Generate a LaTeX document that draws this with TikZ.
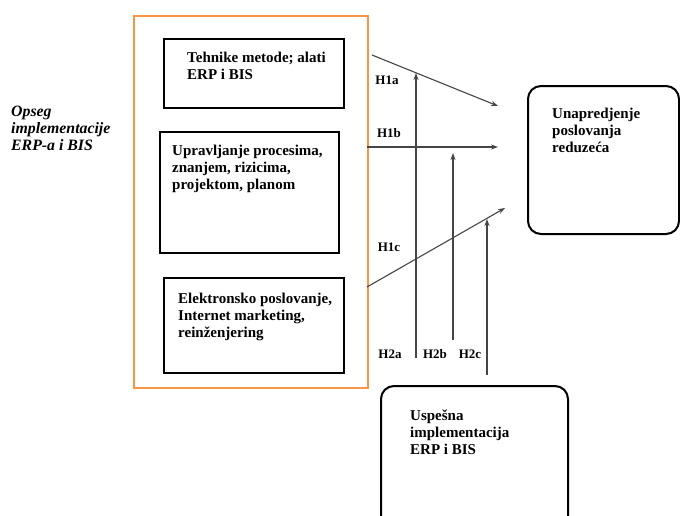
\documentclass[tikz,border=0pt]{standalone}
\usepackage{fontspec}
\setmainfont{Liberation Serif}
\usetikzlibrary{arrows.meta}
\definecolor{orangeline}{HTML}{F79646}
\definecolor{linkgray}{HTML}{454545}
\begin{document}
\begin{tikzpicture}[x=1pt,y=-1pt,
  frame/.style={draw=black,line width=2pt,inner sep=0pt,anchor=north west},
  softbox/.style={draw=black,line width=2pt,rounded corners=13pt,inner sep=0pt,anchor=north west},
  outer/.style={draw=orangeline,line width=2.2pt,inner sep=0pt,anchor=north west},
  txt/.style={anchor=north west,inner sep=0pt,align=left,font=\bfseries\fontsize{15}{16.8}\selectfont},
  sidetxt/.style={txt,font=\bfseries\itshape\fontsize{15.8}{16.8}\selectfont},
  link/.style={draw=linkgray,line width=1.1pt,-{Stealth[length=7pt,width=5pt]}},
  hlabel/.style={font=\bfseries\fontsize{13}{14}\selectfont,inner sep=0pt}]
\useasboundingbox (0,0) rectangle (680,515);

% frame around the three areas of implementation
\node[outer, minimum width=234, minimum height=372] (scope) at (133,15) {};

% the three areas
\node[frame, minimum width=180, minimum height=69] (b1) at (163,38) {};
\node[frame, minimum width=179, minimum height=121] (b2) at (159,131) {};
\node[frame, minimum width=180, minimum height=95] (b3) at (163,277) {};

\node[txt] (t1) at (187,52) {Tehnike metode; alati\\ERP i BIS};
\node[txt] (t2) at (172,145) {Upravljanje procesima,\\znanjem, rizicima,\\projektom, planom};
\node[txt] (t3) at (178,293) {Elektronsko poslovanje,\\Internet marketing,\\reinženjering};

\node[sidetxt] (side) at (11,106) {Opseg\\implementacije\\ERP-a i BIS};

% outcome boxes
\node[softbox, minimum width=151, minimum height=148] (goal) at (527,85) {};
\node[txt] (tg) at (552,108) {Unapredjenje\\poslovanja\\reduzeća};

\node[softbox, minimum width=187, minimum height=150] (impl) at (380,385) {};
\node[txt] (ti) at (410,410) {Uspešna\\implementacija\\ERP i BIS};

% hypothesis arrows H1
\coordinate (a1s) at (372,55);
\coordinate (a1e) at (498,106);
\coordinate (b1s) at (367,147);
\coordinate (b1e) at (498,147);
\coordinate (c1s) at (367,287);
\coordinate (c1e) at (505,208);
\draw[link] (a1s) -- (a1e);
\draw[link] (b1s) -- (b1e);
\draw[link] (c1s) -- (c1e);

% hypothesis arrows H2
\coordinate (a2s) at (416,358);
\coordinate (a2e) at (416,73);
\coordinate (b2s) at (453,340);
\coordinate (b2e) at (453,153);
\coordinate (c2s) at (487,375);
\coordinate (c2e) at (487,219);
\draw[link] (a2s) -- (a2e);
\draw[link] (b2s) -- (b2e);
\draw[link] (c2s) -- (c2e);

% labels
\node[hlabel] (h1a) at (387,80) {H1a};
\node[hlabel] (h1b) at (389,133) {H1b};
\node[hlabel] (h1c) at (389,247) {H1c};
\node[hlabel] (h2a) at (390,354) {H2a};
\node[hlabel] (h2b) at (435,354) {H2b};
\node[hlabel] (h2c) at (470,354) {H2c};
\end{tikzpicture}
\end{document}
